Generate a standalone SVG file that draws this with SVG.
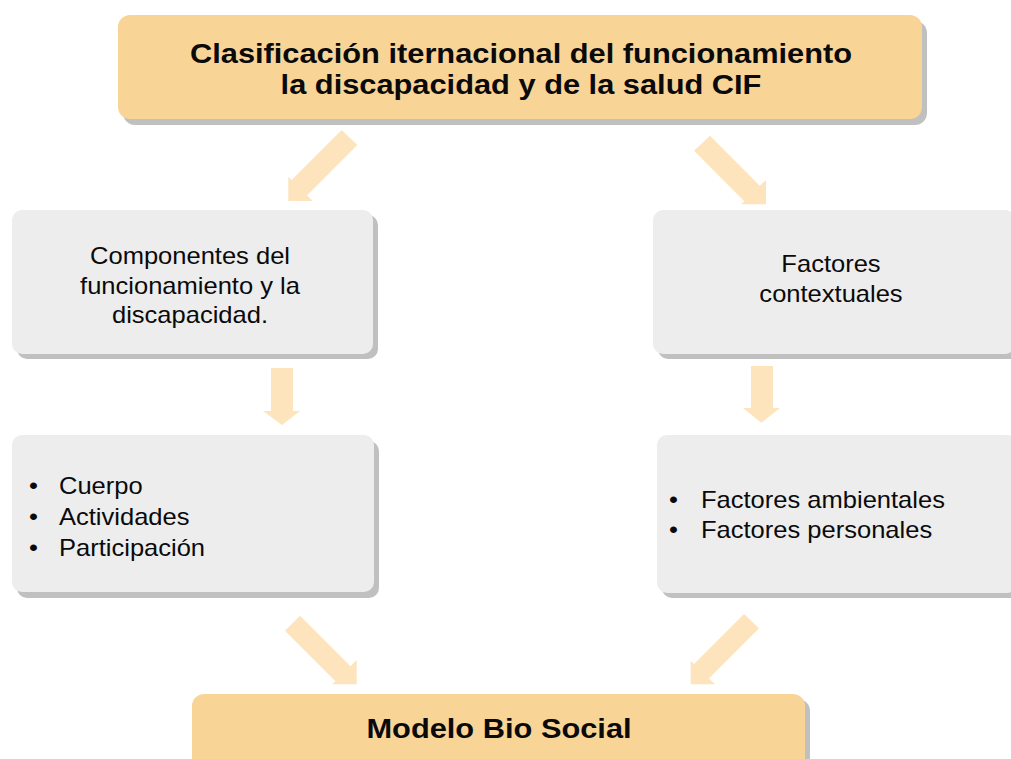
<svg xmlns="http://www.w3.org/2000/svg" width="1011" height="759" viewBox="0 0 1011 759">
  <style>
    .shadow { fill: #C0C0C0; }
    .orange { fill: #F9D497; }
    .gray { fill: #EDEDED; }
    .arrow { fill: #FDE4BC; }
    .title { font-family: "Liberation Sans", Arial, sans-serif; font-weight: bold; font-size: 28px; fill: #0A0A0A; text-anchor: middle; }
    .body { font-family: "Liberation Sans", Arial, sans-serif; font-size: 23px; fill: #0A0A0A; text-anchor: middle; }
    .item { font-family: "Liberation Sans", Arial, sans-serif; font-size: 23px; fill: #0A0A0A; }
  </style>
  <rect width="1011" height="759" fill="#FFFFFF"/>

  <g id="connectors">
    <polygon class="arrow" points="341.7,130 357.3,145 307,195.4 312.7,201 288.3,201 288.3,176.7 291.7,180"/>
    <polygon class="arrow" points="710,135.7 759.8,185.8 766,180 766,204.3 741,204.3 744.3,201.3 694,150.7"/>
    <polygon class="arrow" points="271,368 293,368 293,411 300,411 282,425 263,411 271,411"/>
    <polygon class="arrow" points="751,366 773,366 773,408 780,408 761.3,422.7 743,408 751,408"/>
    <polygon class="arrow" points="300,615.7 350.5,666.2 356.7,660 356.7,684.3 331.7,684.3 335.5,681.2 285,630.7"/>
    <polygon class="arrow" points="744,614 759,628.3 708.8,678.6 715,684.3 690.7,684.3 690.7,661 694.1,663.9"/>
  </g>

  <g id="node-cif">
    <rect class="shadow" x="123" y="21" width="804" height="104" rx="12"/>
    <rect class="orange" x="118" y="15" width="804" height="104" rx="12"/>
    <text class="title" transform="translate(521 0) scale(1.1 1)" x="0" y="63">Clasificación iternacional del funcionamiento</text>
    <text class="title" transform="translate(521 0) scale(1.1 1)" x="0" y="94">la discapacidad y de la salud CIF</text>
  </g>

  <g id="node-componentes">
    <rect class="shadow" x="17" y="215" width="361" height="144" rx="10"/>
    <rect class="gray" x="12" y="210" width="361" height="144" rx="10"/>
    <text class="body" transform="translate(190 0) scale(1.11 1)" x="0" y="264">Componentes del</text>
    <text class="body" transform="translate(190 0) scale(1.11 1)" x="0" y="294">funcionamiento y la</text>
    <text class="body" transform="translate(190 0) scale(1.11 1)" x="0" y="323">discapacidad.</text>
  </g>

  <g id="node-contextuales">
    <rect class="shadow" x="658" y="215" width="362" height="144" rx="10"/>
    <rect class="gray" x="653" y="210" width="362" height="144" rx="10"/>
    <text class="body" transform="translate(831 0) scale(1.11 1)" x="0" y="272">Factores</text>
    <text class="body" transform="translate(831 0) scale(1.11 1)" x="0" y="302">contextuales</text>
  </g>

  <g id="node-cuerpo">
    <rect class="shadow" x="17" y="441" width="362" height="157" rx="10"/>
    <rect class="gray" x="12" y="435" width="362" height="157" rx="10"/>
    <g transform="translate(29 0) scale(1.11 1)">
      <text class="item" x="0" y="494">•</text>
      <text class="item" x="0" y="525">•</text>
      <text class="item" x="0" y="556">•</text>
    </g>
    <g transform="translate(59 0) scale(1.11 1)">
      <text class="item" x="0" y="494">Cuerpo</text>
      <text class="item" x="0" y="525">Actividades</text>
      <text class="item" x="0" y="556">Participación</text>
    </g>
  </g>

  <g id="node-factores">
    <rect class="shadow" x="662" y="441" width="360" height="157" rx="10"/>
    <rect class="gray" x="657" y="435" width="360" height="158" rx="10"/>
    <g transform="translate(669 0) scale(1.11 1)">
      <text class="item" x="0" y="508">•</text>
      <text class="item" x="0" y="538">•</text>
    </g>
    <g transform="translate(701 0) scale(1.11 1)">
      <text class="item" x="0" y="508">Factores ambientales</text>
      <text class="item" x="0" y="538">Factores personales</text>
    </g>
  </g>

  <g id="node-modelo">
    <rect class="shadow" x="197" y="699" width="613" height="80" rx="12"/>
    <rect class="orange" x="192" y="694" width="613" height="80" rx="12"/>
    <text class="title" transform="translate(499 0) scale(1.1 1)" x="0" y="738">Modelo Bio Social</text>
  </g>
</svg>
